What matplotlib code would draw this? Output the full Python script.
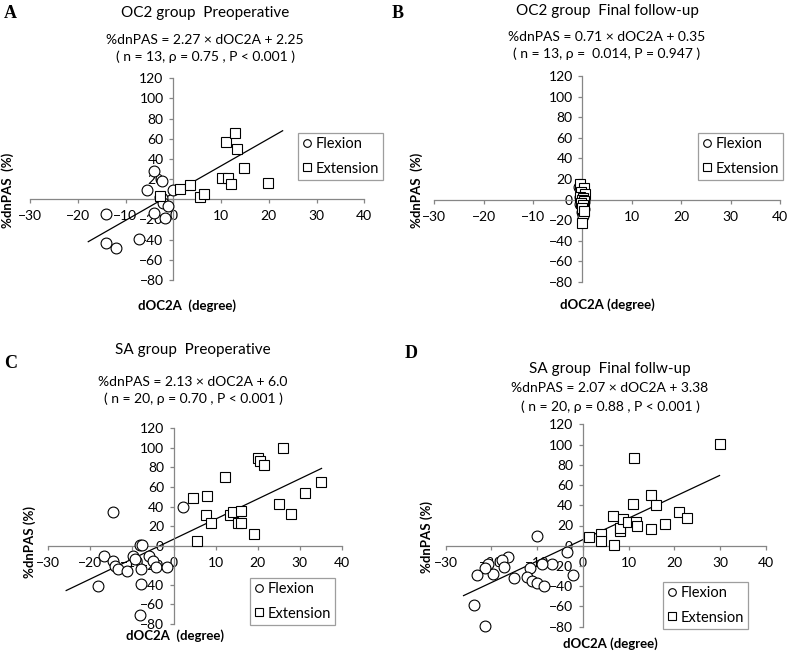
import matplotlib
matplotlib.use("Agg")
import matplotlib.pyplot as plt
from matplotlib.lines import Line2D

plt.rcParams['font.family'] = ['Lato', 'DejaVu Sans']

W, H = 787, 655

# --- data ---
# A: OC2 group, preoperative
a_flex_x = [-4.0, -2.3, -5.5, 0.0, -2.8, -2.4, -2.1, -1.0, -4.0, -1.7, -14.0, -14.0, -12.0, -7.1]
a_flex_y = [28, 18, 9, 9, 2.6, 1, -3.3, -6.6, -14, -19, -15, -43, -48, -39]
a_ext_x = [-2.8, 1.5, 3.5, 5.6, 6.4, 10.3, 11.4, 12.1, 11.0, 12.9, 13.4, 14.9, 19.9]
a_ext_y = [3, 10.5, 14, 2.6, 5, 21, 21, 15.5, 57, 66, 50, 31, 16]
a_line_x = [-17.8, 22.9]
a_line_y = [-42, 68]

# B: OC2 group, final follow-up
b_flex_x = [-0.6, -0.3, 0.2, -0.5, 0.3, -0.2, 0.4, -0.4, 0.1, 0.3, -0.1, 0.2, -0.3]
b_flex_y = [12, 8, 5, 3, 1, 0, -2, -4, -6, -9, -12, -16, 4]
b_ext_x = [-0.4, 0.3, -0.2, 0.5, -0.5, 0.2, 0.0, 0.4, -0.3, 0.1, -0.1, 0.3, 0.0]
b_ext_y = [15, 11, 7, 5, 3, 2, 0, -1, -3, -5, -8, -11, -23]
b_line_x = [-0.8, 0.6]
b_line_y = [-0.2, 0.8]

# C: SA group, preoperative
c_flex_x = [-14.5, 2.1, -8.0, -7.5, -16.5, -14.5, -14.0, -13.2, -11.1, -9.6, -9.2, -6.0, -5.0,
            -4.2, -7.9, -1.7, -18.1, -7.9, -8.0]
c_flex_y = [34, 40, 1, 1, -11, -16, -21, -24, -26, -11, -14, -11, -16, -22, -24, -22, -41, -39, -71]
c_ext_x = [4.5, 8.0, 12.2, 20.0, 20.6, 21.6, 26.0, 35.1, 31.2, 25.0, 28.0, 7.7, 8.9, 13.4, 14.0,
           15.2, 16.0, 16.1, 19.1, 5.6]
c_ext_y = [48.5, 51, 70.5, 90, 87, 82, 100, 65, 53.6, 42.4, 32, 31, 23, 31, 34, 23.7, 23, 35.6, 12, 4.4]
c_line_x = [-25.6, 35.2]
c_line_y = [-45.8, 79]

# D: SA group, final follow-up
d_flex_x = [-10.1, -3.5, -2.2, -6.7, -9.0, -11.6, -12.3, -11.2, -10.1, -8.5, -15.0, -16.4, -17.7,
            -17.2, -19.6, -20.8, -21.4, -23.2, -23.9, -21.4]
d_flex_y = [10, -6, -29, -18, -18, -22, -31, -34.5, -37, -39.5, -32, -11, -14, -21, -27.6, -17.8,
            -22, -29, -59, -79]
d_ext_x = [1.4, 4.0, 4.0, 6.5, 6.8, 8.1, 8.1, 8.7, 9.8, 10.9, 11.7, 11.9, 11.1, 14.9, 14.9, 16.0,
           18.0, 21.1, 22.8, 29.9]
d_ext_y = [8.9, 12, 5, 29.6, 0.7, 15, 18, 26, 23, 41, 23.7, 20, 87, 50, 17, 40, 21.7, 33, 27.6, 100.7]
d_line_x = [-26.1, 29.9]
d_line_y = [-49.3, 69.4]

x_ticks = [-30, -20, -10, 0, 10, 20, 30, 40]
y_ticks = [-80, -60, -40, -20, 0, 20, 40, 60, 80, 100, 120]

panels = [
    dict(letter='A', title='OC2 group  Preoperative',
         eq='%dnPAS = 2.27 × dOC2A + 2.25', stat='( n = 13, ρ = 0.75 , P < 0.001 )',
         fx=a_flex_x, fy=a_flex_y, ex=a_ext_x, ey=a_ext_y, lx=a_line_x, ly=a_line_y,
         box=(30, 364.3, 78.3, 280), letter_xy=(4, 14), title_xy=(205, 13), eq_y=40, stat_y=57,
         xlab='dOC2A  (degree)', xlab_xy=(187, 306), ylab='%dnPAS  (%)', ylab_xy=(8, 190),
         leg=(298, 133, 377, 177)),
    dict(letter='B', title='OC2 group  Final follow-up',
         eq='%dnPAS = 0.71 × dOC2A + 0.35', stat='( n = 13, ρ =  0.014, P = 0.947 )',
         fx=b_flex_x, fy=b_flex_y, ex=b_ext_x, ey=b_ext_y, lx=b_line_x, ly=b_line_y,
         box=(434.3, 780, 76, 282), letter_xy=(392, 14), title_xy=(607, 11), eq_y=37, stat_y=54,
         xlab='dOC2A (degree)', xlab_xy=(607, 305), ylab='%dnPAS  (%)', ylab_xy=(417, 190),
         leg=(698, 133, 786, 179)),
    dict(letter='C', title='SA group  Preoperative',
         eq='%dnPAS = 2.13 × dOC2A + 6.0', stat='( n = 20, ρ = 0.70 , P < 0.001 )',
         fx=c_flex_x, fy=c_flex_y, ex=c_ext_x, ey=c_ext_y, lx=c_line_x, ly=c_line_y,
         box=(47.7, 341.7, 428.3, 624), letter_xy=(4, 363), title_xy=(193, 350), eq_y=382, stat_y=399,
         xlab='dOC2A  (degree)', xlab_xy=(175, 636), ylab='%dnPAS (%)', ylab_xy=(30, 542),
         leg=(250, 578, 328, 628)),
    dict(letter='D', title='SA group  Final follw-up',
         eq='%dnPAS = 2.07 × dOC2A + 3.38', stat='( n = 20, ρ = 0.88 , P < 0.001 )',
         fx=d_flex_x, fy=d_flex_y, ex=d_ext_x, ey=d_ext_y, lx=d_line_x, ly=d_line_y,
         box=(445.7, 765.7, 424.3, 626.7), letter_xy=(405, 354), title_xy=(610, 369), eq_y=388, stat_y=407,
         xlab='dOC2A (degree)', xlab_xy=(610, 644), ylab='%dnPAS (%)', ylab_xy=(427, 537),
         leg=(663, 582, 748, 628)),
]


def fpos(x, y):
    return x / W, 1 - y / H


fig = plt.figure(figsize=(W / 100, H / 100), dpi=100)
axis_col = '#868686'

for p in panels:
    l, r, t, b = p['box']
    ax = fig.add_axes([l / W, 1 - b / H, (r - l) / W, (b - t) / H])
    ax.set_xlim(-30, 40)
    ax.set_ylim(-80, 120)
    ax.set_facecolor('none')
    for s in ['top', 'right']:
        ax.spines[s].set_visible(False)
    ax.spines['left'].set_position(('data', 0))
    ax.spines['bottom'].set_position(('data', 0))
    for s in ['left', 'bottom']:
        ax.spines[s].set_color(axis_col)
        ax.spines[s].set_linewidth(0.9)
    ax.set_xticks(x_ticks)
    ax.set_yticks(y_ticks)
    ax.tick_params(axis='both', color=axis_col, length=3, width=0.9, labelsize=10)
    ax.tick_params(axis='x', pad=5)
    ax.tick_params(axis='y', pad=4)

    ax.plot(p['lx'], p['ly'], color='black', lw=0.9, zorder=2)
    ax.plot(p['fx'], p['fy'], 'o', ms=7.8, mfc='white', mec='black', mew=0.8, zorder=3,
            clip_on=False)
    ax.plot(p['ex'], p['ey'], 's', ms=7.0, mfc='white', mec='black', mew=0.8, zorder=3,
            clip_on=False)

    fig.text(*fpos(*p['letter_xy']), p['letter'], family='Liberation Serif', weight='bold',
             fontsize=13, ha='left', va='center')
    fig.text(*fpos(*p['title_xy']), p['title'], fontsize=11, ha='center', va='center')
    fig.text(*fpos(p['title_xy'][0], p['eq_y']), p['eq'], fontsize=10, ha='center', va='center')
    fig.text(*fpos(p['title_xy'][0], p['stat_y']), p['stat'], fontsize=10, ha='center', va='center')
    fig.text(*fpos(*p['xlab_xy']), p['xlab'], fontsize=9.5, weight='bold', ha='center', va='center')
    fig.text(*fpos(*p['ylab_xy']), p['ylab'], fontsize=9.5, weight='bold', ha='center', va='center',
             rotation=90)

    lx0, ly0, lx1, ly1 = p['leg']
    handles = [Line2D([], [], ls='none', marker='o', ms=5.5, mfc='white', mec='black', mew=0.8),
               Line2D([], [], ls='none', marker='s', ms=5.5, mfc='white', mec='black', mew=0.8)]
    leg = fig.legend(handles, ['Flexion', 'Extension'], loc='upper left',
                     bbox_to_anchor=(lx0 / W, 1 - ly0 / H), bbox_transform=fig.transFigure,
                     fontsize=10.5, frameon=True, fancybox=False, borderpad=0.3, labelspacing=0.7,
                     handlelength=0.6, handletextpad=0.3, borderaxespad=0)
    leg.get_frame().set_edgecolor(axis_col)
    leg.get_frame().set_linewidth(0.9)

fig.savefig('out.png', dpi=100)
